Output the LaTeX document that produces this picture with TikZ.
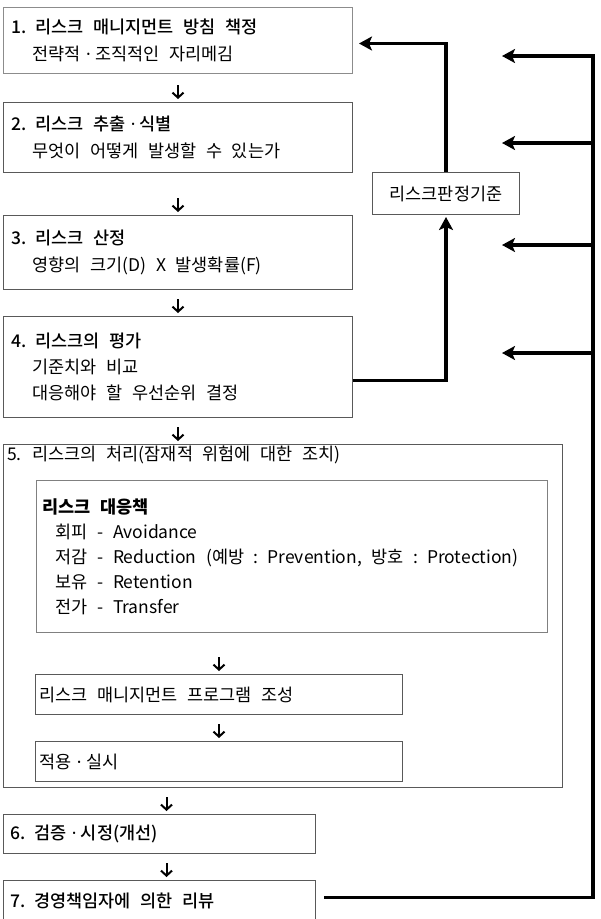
\documentclass[tikz,border=0pt]{standalone}
\usepackage{fontspec}
\setmainfont{Noto Sans CJK KR}
\newfontfamily\medfont{Noto Sans CJK KR Medium}
\newfontfamily\latfont{Noto Sans}
\usepackage{tikz}
\usetikzlibrary{arrows.meta,positioning,calc}
\definecolor{boxgray}{gray}{0.35}
\newcommand{\fbw}{3.6pt}
\newcommand{\subind}{\hspace*{21pt}}
\newcommand{\itemind}{\hspace*{13pt}}
\newcommand{\mdot}{\hspace{.3em}{\latfont ·}\hspace{.25em}}
\newcommand{\stepdown}[1]{\draw[down] ([yshift=17pt]#1) -- ([yshift=3pt]#1);}

\begin{document}
\begin{tikzpicture}[x=1pt,y=-1pt,font=\fontsize{17.5}{27}\selectfont,
        every node/.style={execute at begin node={\spaceskip=.55em\relax}},
        stage/.style={draw=boxgray, line width=1pt, anchor=north west,
                inner xsep=8pt, inner ysep=0pt, align=left},
        down/.style={line width=2pt, -{Straight Barb[length=5pt,width=11pt]}},
        fb/.style={line width=\fbw, -{Stealth[length=13pt,width=14pt,inset=3pt]}}]
                %\draw[help lines] (0,0) grid[step=50] (601,919);
                \useasboundingbox (0,0) rectangle (601,919);

                % left column
                \node[stage, draw=black!45, text width=333pt, minimum height=66pt] (b1) at (3,7)
                        {{\medfont 1. 리스크 매니지먼트 방침 책정}\\ \subind 전략적\mdot 조직적인 자리메김};
                \node[stage, text width=333pt, minimum height=70pt] (b2) at (3,102)
                        {{\medfont 2. 리스크 추출\mdot 식별}\\ \subind 무엇이 어떻게 발생할 수 있는가};
                \node[stage, text width=333pt, minimum height=74pt] (b3) at (3,215)
                        {{\medfont 3. 리스크 산정}\\ \subind 영향의 크기(D) X 발생확률(F)};
                \node[stage, text width=333pt, minimum height=101pt,
                        font=\fontsize{17.5}{26}\selectfont] (b4) at (3,316)
                        {{\medfont 4. 리스크의 평가}\\ \subind 기준치와 비교\\ \subind 대응해야 할 우선순위 결정};

                \node[stage, minimum width=559pt, minimum height=343pt] (b5) at (3,444) {};
                \node[anchor=west, inner sep=0pt] (b5t) at (7,455) {5. 리스크의 처리(잠재적 위험에 대한 조치)};
                \node[stage, draw=black!50, text width=499pt, inner xsep=6pt, minimum height=152pt,
                        font=\fontsize{17.5}{25}\selectfont] (plan) at (36,480)
                        {{\bfseries 리스크 대응책}\\
                         \itemind 회피 - Avoidance\\
                         \itemind 저감 - Reduction (예방 : Prevention, 방호 : Protection)\\
                         \itemind 보유 - Retention\\
                         \itemind 전가 - Transfer};
                \node[stage, text width=359pt, inner xsep=4pt, minimum height=40pt] (prog) at (35,674)
                        {리스크 매니지먼트 프로그램 조성};
                \node[stage, text width=359pt, inner xsep=4pt, minimum height=40pt] (apply) at (35,741)
                        {적용\mdot 실시};

                \node[stage, text width=298pt, inner xsep=7pt, minimum height=39pt] (b6) at (3,814)
                        {{\medfont 6. 검증\mdot 시정(개선)}};
                \node[stage, text width=298pt, inner xsep=7pt, minimum height=40pt] (b7) at (3,880)
                        {{\medfont 7. 경영책임자에 의한 리뷰}};

                \node[draw=boxgray, line width=1pt, anchor=north west, minimum width=147pt,
                        minimum height=42pt] (judge) at (372,172) {리스크판정기준};

                % down arrows
                \coordinate (in5) at (b5.north -| b4.south);
                \coordinate (in6) at ([xshift=7pt]b6.north);
                \stepdown{b2.north}
                \stepdown{b3.north}
                \stepdown{b4.north}
                \stepdown{in5}
                \stepdown{prog.north}
                \stepdown{apply.north}
                \stepdown{in6}
                \coordinate (in7) at (in6 |- b7.north);
                \stepdown{in7}

                % feedback
                \draw[fb, shorten >=2pt] ([yshift=-13.5pt]b4.east) -| (judge.south);
                \draw[fb, shorten >=6pt] (judge.north) |- ([yshift=-3pt]b1.east);

                \coordinate (rail) at (593,56);
                \foreach \y [count=\i] in {56,143,245,353}
                        \coordinate (fb\i) at (502,\y);
                \draw[fb, shorten <=8pt] ([yshift=3pt]b7.east) -| (rail) -- (fb1);
                \foreach \i in {2,3,4}
                        \draw[fb] (fb\i -| rail) -- (fb\i);
\end{tikzpicture}
\end{document}
